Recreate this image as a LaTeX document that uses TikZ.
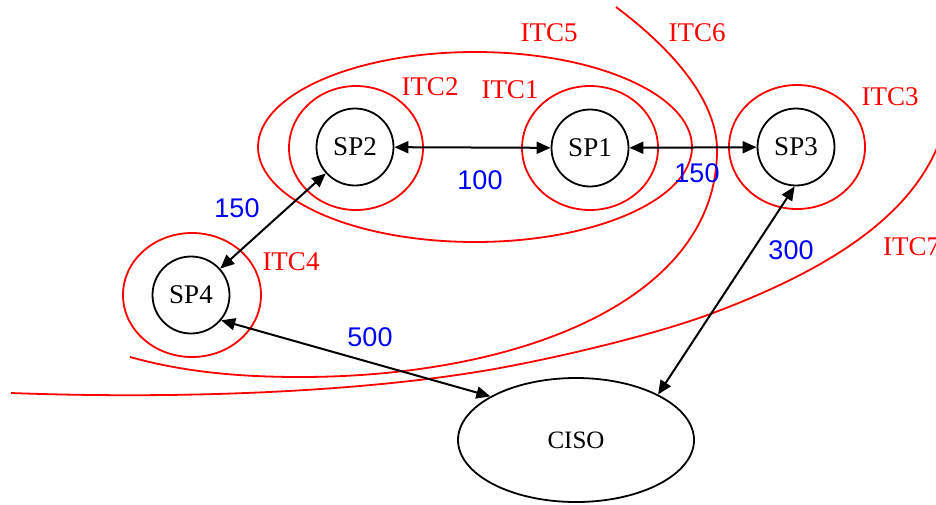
\documentclass[tikz,border=0pt]{standalone}
\usepackage{fontspec}
\setmainfont{Liberation Serif}
\setsansfont{Liberation Sans}
\usetikzlibrary{arrows.meta,shapes.geometric}
\begin{document}
\begin{tikzpicture}[x=1pt,y=-1pt,
  sp/.style={circle,draw=black,line width=1.8pt,minimum size=77pt,inner sep=0pt,font=\fontsize{27}{30}\selectfont},
  zone/.style={draw=red,line width=1.8pt},
  itc/.style={text=red,font=\fontsize{27}{30}\selectfont,inner sep=0pt},
  cost/.style={text=blue,font=\sffamily\fontsize{27}{30}\selectfont,inner sep=0pt},
  link/.style={line width=2pt,{Triangle[length=14pt,width=12pt]}-{Triangle[length=14pt,width=12pt]}}
]
\useasboundingbox (0,0) rectangle (936,504);
% zones
\draw[zone] (356,148) ellipse [x radius=67pt, y radius=62pt];
\draw[zone] (590,148) ellipse [x radius=68pt, y radius=62pt];
\draw[zone] (797,147) ellipse [x radius=68pt, y radius=62pt];
\draw[zone] (192,295) ellipse [x radius=69pt, y radius=62pt];
\draw[zone] (475,147) ellipse [x radius=217pt, y radius=95pt];
\draw[zone] (616,7) .. controls (680,55) and (717,105) .. (717,150)
  .. controls (717,300) and (520,377) .. (300,377)
  .. controls (220,377) and (170,368) .. (130,357);
\draw[zone] (11,393) .. controls (200,400) and (380,390) .. (500,368)
  .. controls (570,355) and (660,333) .. (713,313)
  .. controls (830,269) and (915,215) .. (942,135);
% nodes
\node[sp] (SP2) at (355,147) {SP2};
\node[sp] (SP1) at (590,148) {SP1};
\node[sp] (SP3) at (796,147) {SP3};
\node[sp] (SP4) at (191,295) {SP4};
\node[ellipse,draw=black,line width=1.8pt,minimum width=236pt,minimum height=124pt,inner sep=0pt,font=\fontsize{25}{30}\selectfont] (CISO) at (576,440) {CISO};
% zone labels
\node[itc] (l1) at (510,90) {ITC1};
\node[itc] (l2) at (430,87) {ITC2};
\node[itc] (l3) at (890,97) {ITC3};
\node[itc] (l4) at (291,262) {ITC4};
\node[itc] (l5) at (549,33) {ITC5};
\node[itc] (l6) at (697,33) {ITC6};
\node[itc,anchor=west] (l7) at (883,247) {ITC7};
% links
\draw[link] (SP2) -- (SP1);
\draw[link] (SP1) -- (SP3);
\draw[link] (SP2) -- (SP4);
\draw[link] (SP4.-40) -- (CISO.153);
\draw[link] (SP3.-92) -- (CISO.29);
% costs
\node[cost] (c100) at (480,180) {100};
\node[cost] (c150a) at (697,173) {150};
\node[cost] (c150b) at (237,208) {150};
\node[cost] (c300) at (791,250) {300};
\node[cost] (c500) at (370,337) {500};
\end{tikzpicture}
\end{document}
